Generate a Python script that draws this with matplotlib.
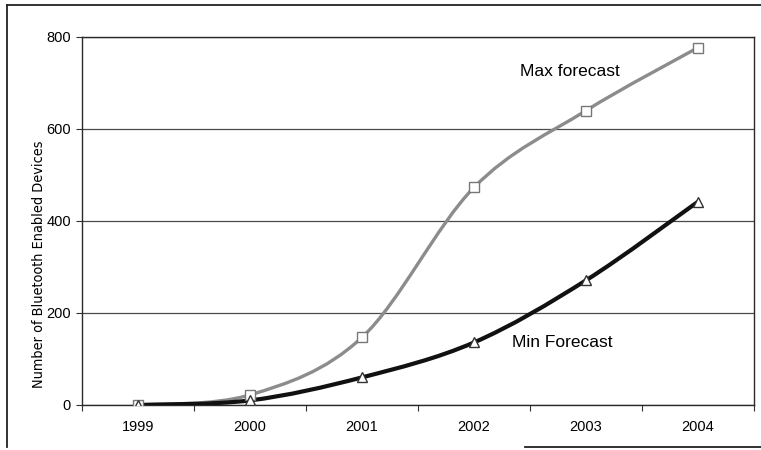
import numpy as np
import matplotlib.pyplot as plt
from matplotlib import font_manager
from matplotlib.path import Path
from matplotlib.patches import PathPatch
from matplotlib.lines import Line2D

plt.rcParams['font.family'] = ['Liberation Sans', 'DejaVu Sans']

years = ['1999', '2000', '2001', '2002', '2003', '2004']
max_forecast = [0, 22, 147, 473, 640, 777]
min_forecast = [0, 10, 60, 136, 271, 442]
y_ticks = [0, 200, 400, 600, 800]


def smooth_path(xs, ys):
    # Bezier through the points, like the "smoothed line" option of a spreadsheet
    pts = np.column_stack([xs, ys]).astype(float)
    p = np.vstack([pts[0], pts, pts[-1]])
    verts = [pts[0]]
    codes = [Path.MOVETO]
    for i in range(1, len(p) - 2):
        c1 = p[i] + (p[i + 1] - p[i - 1]) / 6
        c2 = p[i + 1] - (p[i + 2] - p[i]) / 6
        verts += [c1, c2, p[i + 1]]
        codes += [Path.CURVE4] * 3
    return Path(verts, codes)


fig = plt.figure(figsize=(7.61, 4.5), dpi=100)
ax = fig.add_axes([82 / 761, 1 - 405 / 450, 672 / 761, 368 / 450])

x = np.arange(len(years))

ax.set_xlim(-0.5, len(years) - 0.5)
ax.set_ylim(0, 800)
ax.set_yticks(y_ticks)
ax.set_yticklabels([str(v) for v in y_ticks], fontsize=10.5)
ax.grid(axis='y', color='#4a4a4a', lw=0.9)
ax.set_axisbelow(True)

ax.set_xticks(np.arange(-0.5, len(years)), labels=[])
ax.set_xticks(x, labels=years, minor=True)
ax.tick_params(axis='x', which='minor', length=0, pad=11, labelsize=10.5)
ax.tick_params(axis='x', which='major', direction='out', length=4, color='#333')
ax.tick_params(axis='y', direction='out', length=4, pad=4, color='#333')

for s in ax.spines.values():
    s.set_color('#2a2a2a')
    s.set_linewidth(1.0)

ax.add_patch(PathPatch(smooth_path(x, max_forecast), facecolor='none',
                       edgecolor='#8c8c8c', lw=2.4, zorder=3))
ax.add_patch(PathPatch(smooth_path(x, min_forecast), facecolor='none',
                       edgecolor='#111111', lw=3.0, zorder=3))
ax.plot(x, max_forecast, ls='none', marker='s', ms=6.5, mfc='white',
        mec='#777777', mew=1.0, zorder=4)
ax.plot(x, min_forecast, ls='none', marker='^', ms=7, mfc='white',
        mec='#333333', mew=1.0, zorder=4)

ax.text(3.41, 726, 'Max forecast', fontsize=12.5, ha='left', va='center')
ax.text(3.34, 135, 'Min Forecast', fontsize=12.5, ha='left', va='center')

# narrow face for the axis title if there is one
names = {f.name for f in font_manager.fontManager.ttflist}
narrow = [f for f in font_manager.fontManager.ttflist
          if f.name == 'DejaVu Sans' and 'condensed' in str(f.stretch)]
if 'Liberation Sans Narrow' in names:
    lab_kw = dict(family='Liberation Sans Narrow')
elif narrow:
    lab_kw = dict(family='DejaVu Sans', fontstretch='condensed')
else:
    lab_kw = dict(family='Liberation Sans')

ylab = fig.text(39 / 761, 1 - 264 / 450, 'Number of Bluetooth Enabled Devices',
                rotation=90, ha='center', va='center', fontsize=12, **lab_kw)
fig.canvas.draw()
h = ylab.get_window_extent().height
ylab.set_fontsize(12 * 248 / h)

# scanned frame around the chart
fig.add_artist(Line2D([7 / 761, 7 / 761], [1 - 447 / 450, 1 - 5 / 450],
                      transform=fig.transFigure, color='#222', lw=1.3))
fig.add_artist(Line2D([7 / 761, 1], [1 - 5 / 450, 1 - 5 / 450],
                      transform=fig.transFigure, color='#222', lw=1.3))
fig.add_artist(Line2D([525 / 761, 1], [1 - 447 / 450, 1 - 447 / 450],
                      transform=fig.transFigure, color='#222', lw=1.3))

fig.savefig('out.png', dpi=100)
